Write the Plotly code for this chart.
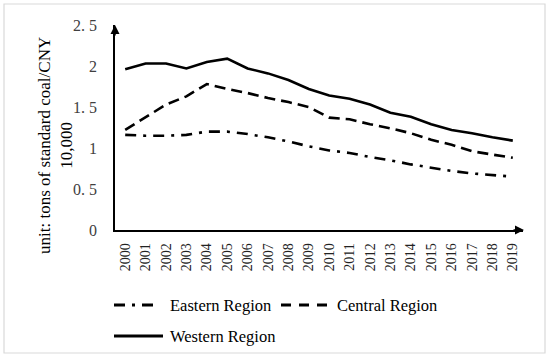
import plotly.graph_objects as go

years = [str(y) for y in range(2000, 2020)]
eastern = [1.16, 1.15, 1.15, 1.16, 1.20, 1.20, 1.17, 1.13, 1.08, 1.02, 0.97, 0.94, 0.89, 0.85, 0.80, 0.76, 0.72, 0.69, 0.67, 0.65]
central = [1.22, 1.38, 1.53, 1.63, 1.78, 1.72, 1.67, 1.61, 1.56, 1.50, 1.37, 1.35, 1.29, 1.24, 1.18, 1.10, 1.04, 0.96, 0.92, 0.88]
western = [1.96, 2.03, 2.03, 1.97, 2.05, 2.09, 1.97, 1.91, 1.83, 1.72, 1.64, 1.60, 1.53, 1.43, 1.38, 1.29, 1.22, 1.18, 1.13, 1.09]
y_ticks = [0, 0.5, 1, 1.5, 2, 2.5]
y_ticktext = ["0", "0. 5", "1", "1. 5", "2", "2. 5"]
series_names = ["Eastern Region", "Central Region", "Western Region"]

serif = "Liberation Serif, Times New Roman, serif"
dashes = ["11px,7px,3px,7px", "11px,6px", "solid"]

W, H = 550, 357
L, R, T, B = 115, 27, 25, 127
pw, ph = W - L - R, H - T - B

def px(x):
    return (x - L) / pw

def py(y):
    return (H - B - y) / ph

fig = go.Figure()
for name, vals, d in zip(series_names, [eastern, central, western], dashes):
    fig.add_trace(go.Scatter(x=years, y=vals, mode="lines", name=name,
                             line=dict(color="black", width=2.6, dash=d), showlegend=False))

fig.update_layout(
    width=W, height=H,
    margin=dict(l=L, r=R, t=T, b=B),
    plot_bgcolor="white", paper_bgcolor="white",
    font=dict(family=serif, color="black"),
    xaxis=dict(type="category", range=[-0.5, 19.5], showline=True, linecolor="black", linewidth=1.5,
               ticks="", tickangle=-90, tickfont=dict(size=14, family=serif, color="#222"), showgrid=False,
               zeroline=False, fixedrange=True, automargin=False, ticklabelstandoff=6),
    yaxis=dict(range=[0, 2.5], tickvals=y_ticks, ticktext=y_ticktext, showline=True,
               linecolor="black", linewidth=1.5, ticks="", showgrid=False, zeroline=False,
               tickfont=dict(size=16, family=serif, color="#404040"), ticklabelstandoff=13,
               automargin=False, fixedrange=True),
    showlegend=False,
)

# y-axis title
fig.add_annotation(xref="paper", yref="paper", x=px(55), y=py(146), xanchor="center", yanchor="middle",
                   text="unit: tons of standard coal/CNY<br>10,000", textangle=-90, showarrow=False,
                   font=dict(size=17, family=serif, color="black"))

# arrowheads on the axes
fig.add_annotation(xref="paper", yref="paper", x=0, y=py(25), ax=0, ay=12,
                   showarrow=True, arrowhead=2, arrowsize=1.2, arrowwidth=1.5, arrowcolor="black", text="")
fig.add_annotation(xref="paper", yref="paper", x=px(524), y=0, ax=-12, ay=0,
                   showarrow=True, arrowhead=2, arrowsize=1.2, arrowwidth=1.5, arrowcolor="black", text="")

# legend (samples + labels)
legend_items = [
    (series_names[0], dashes[0], 114, 154, 305, 168),
    (series_names[1], "10px,8px", 281, 330, 305, 335),
    (series_names[2], dashes[2], 114, 163, 336, 168),
]
for name, d, x0, x1, yy, tx in legend_items:
    fig.add_shape(type="line", xref="paper", yref="paper", x0=px(x0), x1=px(x1), y0=py(yy), y1=py(yy),
                  line=dict(color="black", width=3, dash=d))
    fig.add_annotation(xref="paper", yref="paper", x=px(tx), y=py(yy), xanchor="left", yanchor="middle",
                       text=name, showarrow=False, font=dict(size=16.5, family=serif, color="black"))

# outer light frame
fig.add_shape(type="rect", xref="paper", yref="paper", x0=px(4), x1=px(545), y0=py(353), y1=py(4),
              line=dict(color="#d9d9d9", width=1.2), fillcolor="rgba(0,0,0,0)", layer="below")

fig.write_html("out.html", config={"displayModeBar": False},
               post_script="document.body.style.margin='0';")
